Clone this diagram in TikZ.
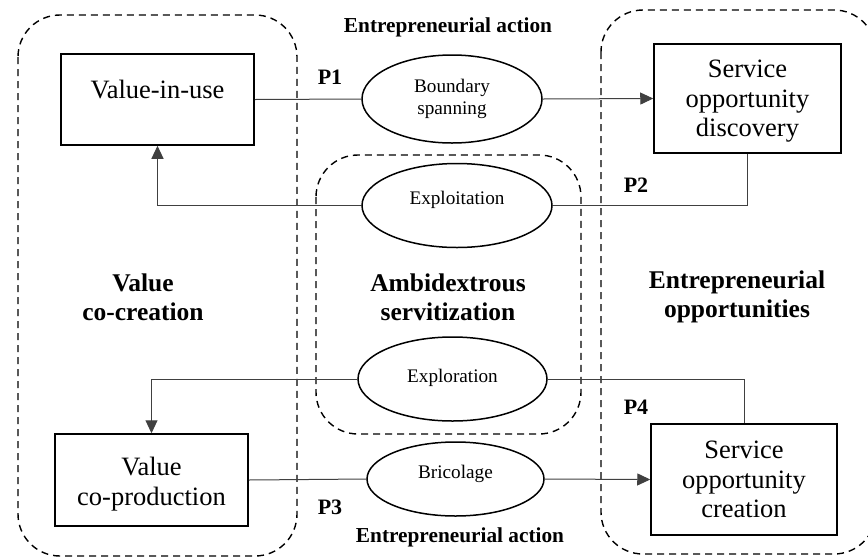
\documentclass[tikz,border=0pt]{standalone}
\usepackage{fontspec}
\setmainfont{Liberation Serif}
\usetikzlibrary{shapes.geometric,arrows.meta}
\begin{document}
\begin{tikzpicture}[x=1pt,y=-1pt,
  box/.style={draw, line width=1.5pt, inner sep=0pt},
  boxtext/.style={inner sep=0pt, align=center, font=\fontsize{26.5}{29.5}\selectfont},
  oval/.style={ellipse, draw, line width=1.5pt, inner sep=0pt},
  ovaltext/.style={inner sep=0pt, align=center, font=\fontsize{19.2}{22}\selectfont},
  zone/.style={draw, line width=1.4pt, dash pattern=on 7pt off 5pt, rounded corners=42pt},
  conn/.style={line width=1pt, draw=black!75},
  arr/.style={conn, -{Triangle[length=13pt,width=12pt]}},
  zlabel/.style={font=\bfseries\fontsize{25.5}{29}\selectfont, align=center},
  plabel/.style={font=\bfseries\fontsize{22}{26}\selectfont},
  alabel/.style={font=\bfseries\fontsize{21.3}{24}\selectfont}
]
\useasboundingbox (0,0) rectangle (868,558);
\clip (0,0) rectangle (868,558);

% zones
\draw[zone] (18,15) rectangle (297,556);
\draw[zone] (316,155) rectangle (581,434);
\draw[zone] (601,10) rectangle (876,554);

% boxes
\node[box, minimum width=193pt, minimum height=91pt] (viu) at (157.5,99.5) {};
\node[box, minimum width=187pt, minimum height=109pt] (sod) at (747.5,98.5) {};
\node[box, minimum width=193pt, minimum height=92pt] (vcp) at (151.5,480) {};
\node[box, minimum width=186pt, minimum height=111pt] (soc) at (744,479.5) {};
\node[boxtext] (viut) at (157.5,90) {Value-in-use};
\node[boxtext] (sodt) at (747.5,101.5) {Service\\opportunity\\discovery};
\node[boxtext] (vcpt) at (151.5,484) {Value\\co-production};
\node[boxtext] (soct) at (744,479.5) {Service\\opportunity\\creation};

% ellipses
\node[oval, minimum width=180pt, minimum height=88pt] (bs) at (452,99) {};
\node[oval, minimum width=190pt, minimum height=84pt] (expt) at (457,205.5) {};
\node[oval, minimum width=189pt, minimum height=84pt] (expr) at (452.5,379) {};
\node[oval, minimum width=177pt, minimum height=74pt] (brc) at (455.5,479) {};
\node[ovaltext] (bst) at (452,99) {Boundary\\spanning};
\node[ovaltext] (exptt) at (457,199.5) {Exploitation};
\node[ovaltext] (exprt) at (452.5,378) {Exploration};
\node[ovaltext] (brct) at (455.5,474) {Bricolage};

% connectors
\draw[conn] (viu.east) -- (bs.west);
\draw[arr] (bs.east) -- (sod.west);
\draw[arr] (expt.west) -| (viu.south);
\draw[conn] (sod.south) |- (expt.east);
\draw[arr] (expr.west) -| (vcp.north);
\draw[conn] (expr.east) -| (soc.north);
\draw[conn] (vcp.east) -- (brc.west);
\draw[arr] (brc.east) -- (soc.west);

% labels
\node[alabel] (ea1) at (448,27) {Entrepreneurial action};
\node[alabel] (ea2) at (460,537) {Entrepreneurial action};
\node[plabel] (p1) at (330,77) {P1};
\node[plabel] (p2) at (636,185) {P2};
\node[plabel] (p3) at (330,507) {P3};
\node[plabel] (p4) at (636,407) {P4};
\node[zlabel] (zl1) at (143,297) {Value\\co-creation};
\node[zlabel] (zl2) at (448,297) {Ambidextrous\\servitization};
\node[zlabel] (zl3) at (737,297) {Entrepreneurial\\opportunities};
\end{tikzpicture}
\end{document}
